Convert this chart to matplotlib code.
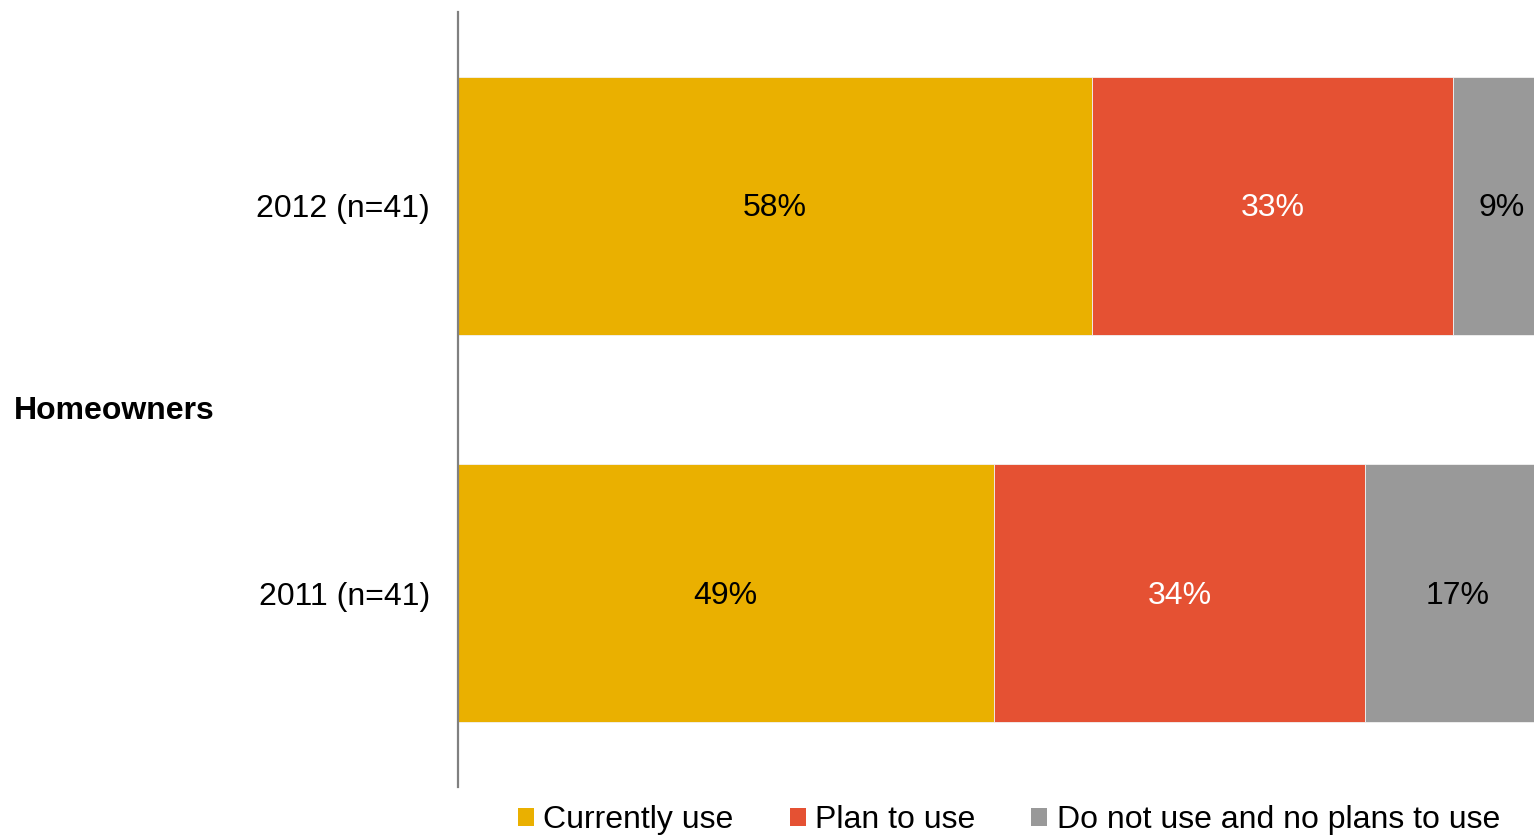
import matplotlib
matplotlib.use("Agg")
import matplotlib.pyplot as plt
from matplotlib.patches import Patch

plt.rcParams['font.family'] = ['Liberation Sans', 'DejaVu Sans']

# Survey data: share of homeowners by usage status
years = ["2011 (n=41)", "2012 (n=41)"]
series_names = ["Currently use", "Plan to use", "Do not use and no plans to use"]
currently_use = [49, 58]
plan_to_use = [34, 33]
no_plans = [17, 9]
group_label = "Homeowners"

colors = ["#EAB000", "#E55133", "#999999"]
text_colors = ["black", "white", "black"]
FS = 23

fig = plt.figure(figsize=(15.34, 8.35), dpi=100)
ax = fig.add_axes([458 / 1534, 1 - 787 / 835, (1551 - 458) / 1534, (787 - 12) / 835])

ypos = list(range(len(years)))
left = [0] * len(years)
for vals, col, tcol in zip([currently_use, plan_to_use, no_plans], colors, text_colors):
    ax.barh(ypos, vals, left=left, height=0.666, color=col,
            edgecolor="#f2f2f2", linewidth=0.6)
    for y, v, l in zip(ypos, vals, left):
        ax.text(l + v / 2, y - 0.007, f"{v}%", ha="center", va="center",
                fontsize=FS, color=tcol)
    left = [a + b for a, b in zip(left, vals)]

ax.set_xlim(0, 100)
ax.set_ylim(-0.5, 1.5)
ax.set_yticks(ypos)
ax.set_yticklabels(years, fontsize=FS)
ax.tick_params(axis="y", length=0, pad=20)
ax.set_xticks([])
for s in ["top", "right", "bottom"]:
    ax.spines[s].set_visible(False)
ax.spines["left"].set_color("#808080")
ax.spines["left"].set_linewidth(1.6)

fig.text(14 / 1534, 1 - 411 / 835, group_label, fontsize=FS, fontweight="bold",
         ha="left", va="center")

handles = [Patch(facecolor=c, edgecolor="none") for c in colors]
fig.legend(handles, series_names, loc="center", bbox_to_anchor=(1009 / 1534, 1 - 820 / 835),
           ncol=3, frameon=False, fontsize=FS, handlelength=0.5, handleheight=0.5,
           handletextpad=0.3, columnspacing=1.75, borderaxespad=0, borderpad=0)

fig.savefig("out.png", dpi=100)
